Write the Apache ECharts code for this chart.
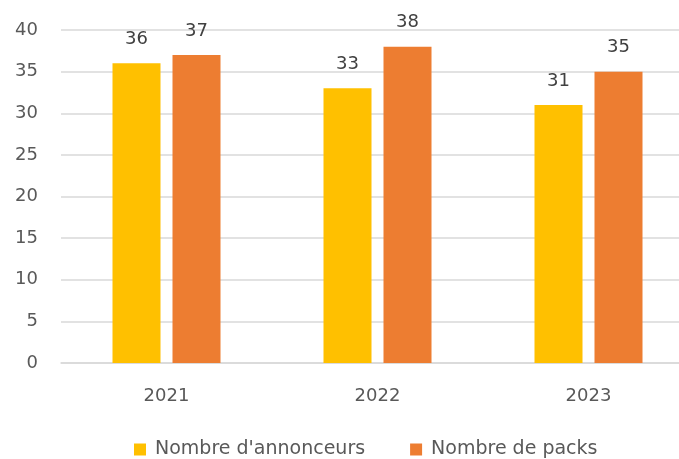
<!DOCTYPE html>
<html>
<head>
<meta charset="utf-8">
<script src="https://cdn.jsdelivr.net/npm/echarts@6/dist/echarts.min.js"></script>
<style>
  html, body { margin: 0; padding: 0; background: #fff; }
  #main { width: 679px; height: 459px; }
</style>
</head>
<body>
<div id="main"></div>
<script>
// Chart data
var years = ['2021', '2022', '2023'];
var annonceurs = [36, 33, 31];
var packs = [37, 38, 35];
var seriesNames = ["Nombre d'annonceurs", 'Nombre de packs'];

var chartDom = document.getElementById('main');
var myChart = echarts.init(chartDom);
var font = 'DejaVu Sans';

var labelStyle = {
    show: true,
    position: 'top',
    distance: 15,
    color: '#404040',
    fontSize: 18,
    fontFamily: font
};

var option = {
    animation: false,
    grid: {
        left: 61,
        width: 633,
        top: 30,
        bottom: 96,
        outerBoundsMode: 'none'
    },
    legend: {
        bottom: 0,
        left: 134,
        padding: 0,
        itemWidth: 12,
        itemHeight: 12,
        itemGap: 45,
        icon: 'rect',
        textStyle: { color: '#595959', fontSize: 19, fontFamily: font, padding: [0, 0, 0, 4] },
        data: seriesNames
    },
    xAxis: {
        type: 'category',
        data: years,
        axisLine: { lineStyle: { color: '#d9d9d9', width: 1.5 } },
        axisTick: { show: false },
        axisLabel: { color: '#595959', fontSize: 18, fontFamily: font, margin: 24 }
    },
    yAxis: {
        type: 'value',
        min: 0,
        max: 40,
        interval: 5,
        axisLine: { show: false },
        axisTick: { show: false },
        axisLabel: { color: '#595959', fontSize: 18, fontFamily: font, margin: 23 },
        splitLine: { lineStyle: { color: '#d9d9d9', width: 1.5 } }
    },
    series: [
        {
            name: seriesNames[0],
            type: 'bar',
            data: annonceurs,
            barWidth: 48,
            barGap: '25%',
            itemStyle: { color: '#FFC000' },
            label: labelStyle
        },
        {
            name: seriesNames[1],
            type: 'bar',
            data: packs,
            barWidth: 48,
            itemStyle: { color: '#ED7D31' },
            label: labelStyle
        }
    ]
};

myChart.setOption(option);
</script>
</body>
</html>
